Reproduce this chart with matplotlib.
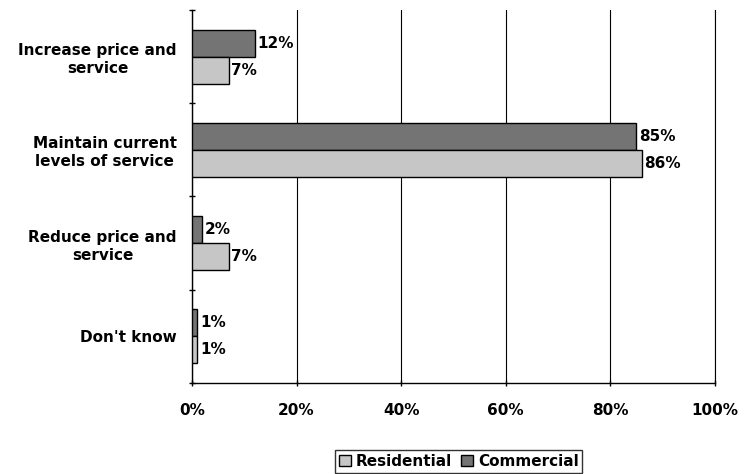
import matplotlib
matplotlib.use("Agg")
import matplotlib.pyplot as plt
import numpy as np

categories = ["Increase price and\nservice", "Maintain current\nlevels of service",
              "Reduce price and\nservice", "Don't know"]
residential = [7, 86, 7, 1]
commercial = [12, 85, 2, 1]
x_ticks = [0, 20, 40, 60, 80, 100]
x_tick_labels = ["0%", "20%", "40%", "60%", "80%", "100%"]

plt.rcParams["font.family"] = ["DejaVu Sans"]
plt.rcParams["font.weight"] = "bold"

fig = plt.figure(figsize=(7.47, 4.74), dpi=100)
ax = fig.add_axes([0.257, 0.192, 0.700, 0.787])

n = len(categories)
y = np.arange(n)[::-1].astype(float)
h = 0.29

bars_c = ax.barh(y + h / 2, commercial, height=h, color="#747474",
                 edgecolor="black", linewidth=1.0, label="Commercial", zorder=3)
bars_r = ax.barh(y - h / 2, residential, height=h, color="#c6c6c6",
                 edgecolor="black", linewidth=1.0, label="Residential", zorder=3)

for bars, vals in ((bars_c, commercial), (bars_r, residential)):
    for b, v in zip(bars, vals):
        ax.text(v + 0.5, b.get_y() + b.get_height() / 2, f"{v}%",
                va="center", ha="left", fontsize=11, fontweight="bold", zorder=4)

ax.set_xlim(0, 100)
ax.set_ylim(-0.5, n - 0.5)
ax.set_xticks(x_ticks)
ax.set_xticklabels(x_tick_labels, fontsize=11, fontweight="bold")
ax.set_yticks(y)
ax.set_yticklabels(categories, fontsize=11, fontweight="bold",
                   linespacing=1.25, multialignment="center")
ax.tick_params(axis="y", length=0, pad=11)
ax.set_yticks(np.arange(-0.5, n, 1.0), minor=True)
ax.tick_params(axis="y", which="minor", length=5, direction="inout", width=1)
ax.tick_params(axis="x", length=5, direction="inout", width=1, pad=12)

ax.xaxis.grid(True, color="black", linewidth=0.8, zorder=0)
ax.set_axisbelow(True)
ax.spines["top"].set_visible(False)
ax.spines["right"].set_linewidth(0.8)
ax.spines["left"].set_linewidth(1.0)
ax.spines["bottom"].set_linewidth(1.0)

handles = [bars_r, bars_c]
leg = fig.legend(handles, ["Residential", "Commercial"], loc="center",
                 bbox_to_anchor=(0.614, 0.027), ncol=2, frameon=True,
                 fancybox=False, edgecolor="black", handlelength=0.8,
                 handleheight=0.8, handletextpad=0.3, columnspacing=0.6,
                 borderpad=0.25, prop={"size": 11, "weight": "bold"})
leg.get_frame().set_linewidth(1.0)

fig.savefig("out.png", dpi=100)
